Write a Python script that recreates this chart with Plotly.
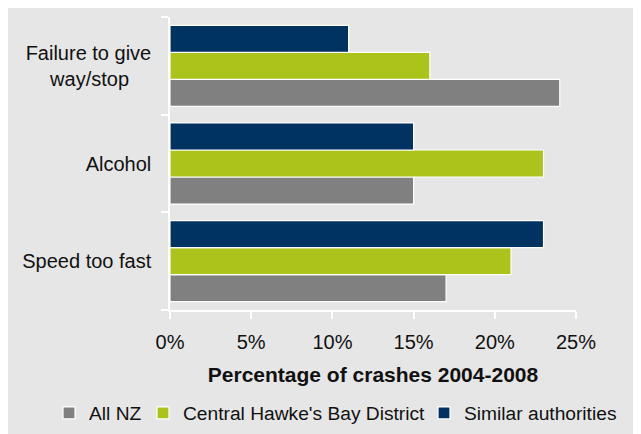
import plotly.graph_objects as go

categories = ["Speed too fast", "Alcohol", "Failure to give way/stop"]
tick_labels = ["Speed too fast", "Alcohol", "Failure to give<br>\u00a0\u00a0\u00a0\u00a0way/stop\u00a0\u00a0\u00a0\u00a0"]
series_names = ["All NZ", "Central Hawke's Bay District", "Similar authorities"]
all_nz = [0.17, 0.15, 0.24]
central_hb = [0.21, 0.23, 0.16]
similar = [0.23, 0.15, 0.11]
colors = ["#808080", "#abc31a", "#003262"]
x_ticks = [0, 0.05, 0.10, 0.15, 0.20, 0.25]
x_ticktext = ["0%", "5%", "10%", "15%", "20%", "25%"]

legend_ids = ["legend", "legend2", "legend3"]
legend_x = [-0.298, -0.0665, 0.6256]

fig = go.Figure()
for name, vals, col, lid in zip(series_names, [all_nz, central_hb, similar], colors, legend_ids):
    fig.add_trace(go.Bar(
        y=categories, x=vals, name=name, orientation="h", legend=lid,
        marker=dict(color=col, line=dict(color="white", width=1.2)),
    ))

BG = "#e6e6e6"

legend_common = dict(orientation="h", xanchor="left", y=-0.3515, yanchor="middle",
                     font=dict(size=19.2), bgcolor="rgba(0,0,0,0)", itemwidth=30)

fig.update_layout(
    width=641, height=434,
    margin=dict(l=162, r=73, t=9, b=132, pad=0),
    paper_bgcolor=BG,
    plot_bgcolor=BG,
    barmode="group",
    bargap=0.17,
    bargroupgap=0,
    font=dict(family="Liberation Sans, Arial, sans-serif", size=20, color="#111111"),
    showlegend=True,
    legend=dict(x=legend_x[0], **legend_common),
    legend2=dict(x=legend_x[1], **legend_common),
    legend3=dict(x=legend_x[2], **legend_common),
    xaxis=dict(
        range=[0, 0.25], tickvals=x_ticks, ticktext=x_ticktext,
        showgrid=False, zeroline=False,
        showline=True, linecolor="white", linewidth=1.5,
        ticks="outside", tickcolor="white", ticklen=7, tickwidth=1.5,
        ticklabelstandoff=6,
        title=dict(text="<b>Percentage of crashes 2004-2008</b>", font=dict(size=21), standoff=16),
        fixedrange=True,
    ),
    yaxis=dict(
        type="category", categoryorder="array", categoryarray=categories,
        tickvals=categories, ticktext=tick_labels,
        showgrid=False, zeroline=False,
        showline=True, linecolor="white", linewidth=1.5,
        ticks="outside", tickcolor="white", ticklen=7, tickwidth=1.5,
        tickson="boundaries", ticklabelstandoff=13,
        fixedrange=True,
    ),
)

fig.write_html("out.html")
